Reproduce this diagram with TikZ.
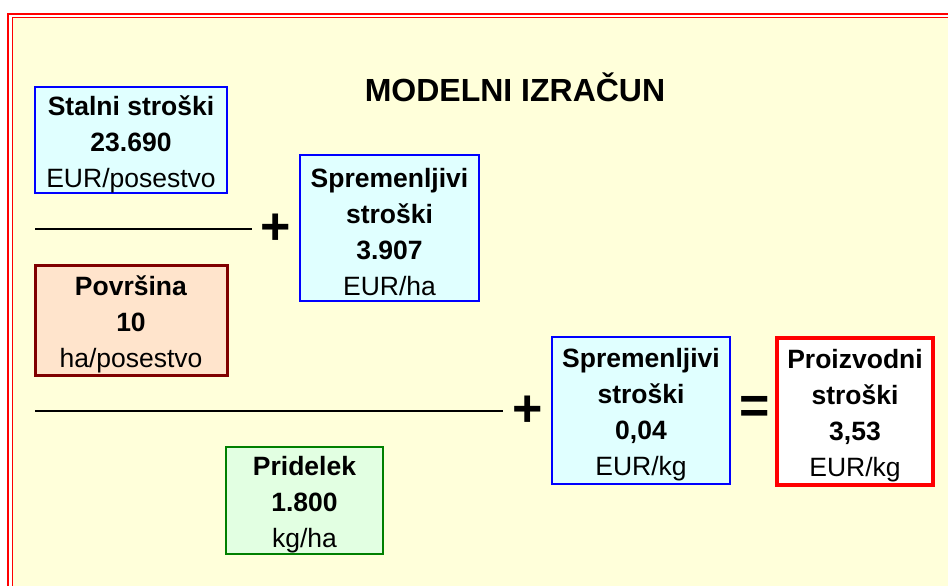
\documentclass[tikz,border=0pt]{standalone}
\usepackage{fontspec}
\setmainfont{Liberation Sans}
\usepackage{xcolor}
\usetikzlibrary{positioning}

\definecolor{sheetyellow}{RGB}{255,255,218}
\definecolor{boxcyan}{RGB}{224,255,255}
\definecolor{boxpeach}{RGB}{255,228,204}
\definecolor{boxgreen}{RGB}{226,255,226}
\definecolor{framered}{RGB}{255,0,0}

% pushes the text block down a little inside the boxes
\newcommand{\topgap}{\rule{0pt}{28pt}}

\tikzset{
    valbox/.style={align=center, inner sep=0pt, font=\fontsize{26.5}{36}\selectfont},
    costbox/.style={valbox, draw=blue, line width=2.5pt, fill=boxcyan},
    areabox/.style={valbox, draw=black!50!red, line width=3pt, fill=boxpeach},
    yieldbox/.style={valbox, draw=green!50!black, line width=2.5pt, fill=boxgreen},
    resultbox/.style={valbox, draw=framered, line width=4pt, fill=white},
    opsign/.style={font=\fontsize{52}{52}\selectfont\bfseries, inner sep=0pt},
    fracbar/.style={line width=1.5pt}
}

\begin{document}
\begin{tikzpicture}[x=1pt, y=-1pt]
        \useasboundingbox (0,0) rectangle (948,586);

        % Sheet and frame
        \fill[white] (0,0) rectangle (948,586);
        \fill[sheetyellow] (12,18) rectangle (948,586);
        \draw[framered, line width=2pt] (8,586) -- (8,14) -- (948,14);
        \draw[framered, line width=1pt] (12,586) -- (12,17.5) -- (948,17.5);

        % Title
        \node[font=\fontsize{32}{32}\selectfont\bfseries] (title) at (515,87) {MODELNI IZRAČUN};

        % Boxes
        \node[costbox, minimum width=192, minimum height=106] (fixed) at (131,140)
            {\topgap\textbf{Stalni stroški}\\ \textbf{23.690}\\ EUR/posestvo};
        \node[areabox, minimum width=192, minimum height=110] (area) at (131,320)
            {\topgap\textbf{Površina}\\ \textbf{10}\\ ha/posestvo};
        \node[costbox, minimum width=179, minimum height=146] (varha) at (389.5,228)
            {\topgap\textbf{Spremenljivi}\\ \textbf{stroški}\\ \textbf{3.907}\\ EUR/ha};
        \node[yieldbox, minimum width=157, minimum height=107] (yield) at (304.5,500.5)
            {\topgap\textbf{Pridelek}\\ \textbf{1.800}\\ kg/ha};
        \node[costbox, minimum width=178, minimum height=147] (varkg) at (641,410.5)
            {\topgap\textbf{Spremenljivi}\\ \textbf{stroški}\\ \textbf{0,04}\\ EUR/kg};
        \node[resultbox, minimum width=156, minimum height=147] (total) at (855,411.5)
            {\topgap\textbf{Proizvodni}\\ \textbf{stroški}\\ \textbf{3,53}\\ EUR/kg};

        % Fraction bars and signs
        \coordinate (bar1l) at (35,229);
        \coordinate (bar1r) at (252,229);
        \coordinate (bar2l) at (35,411);
        \coordinate (bar2r) at (503,411);
        \draw[fracbar] (bar1l) -- (bar1r);
        \draw[fracbar] (bar2l) -- (bar2r);

        \node[opsign] (plus1) at (276,229) {+};
        \node[opsign] (plus2) at (528,411) {+};
        \node[opsign] (equals) at (755,410) {=};
    \end{tikzpicture}
\end{document}
